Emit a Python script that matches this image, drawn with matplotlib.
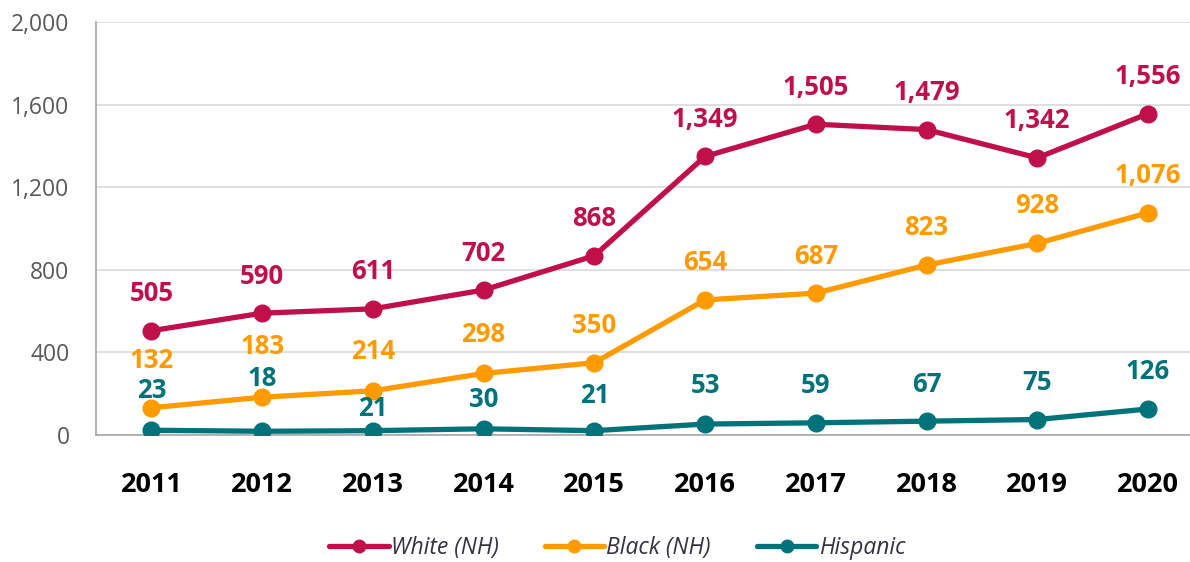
import numpy as np
import matplotlib.pyplot as plt
from matplotlib.ticker import FuncFormatter

YEARS = ["2011", "2012", "2013", "2014", "2015", "2016", "2017", "2018", "2019", "2020"]
WHITE = [505, 590, 611, 702, 868, 1349, 1505, 1479, 1342, 1556]
BLACK = [132, 183, 214, 298, 350, 654, 687, 823, 928, 1076]
HISPANIC = [23, 18, 21, 30, 21, 53, 59, 67, 75, 126]

SERIES = [
    ("White (NH)", WHITE, "#C0104A"),
    ("Black (NH)", BLACK, "#FF9A00"),
    ("Hispanic", HISPANIC, "#00737A"),
]
# label offsets above point (pixels), per series
LABEL_DY = {
    "White (NH)": [37] * 10,
    "Black (NH)": [47, 51, 39, 39, 37, 37, 37, 38, 38, 37],
    "Hispanic": [40, 53, 22, 29, 35, 39, 37, 37, 37, 37],
}

FONT = "Open Sans"
DPI = 100
fig = plt.figure(figsize=(11.9, 5.62), dpi=DPI)
ax = fig.add_axes([96 / 1190, 1 - 435 / 562, 1 - 96 / 1190, (435 - 22) / 562])

xs = np.arange(len(YEARS))
for name, vals, color in SERIES:
    ax.plot(xs, vals, color=color, lw=3.8, marker="o", ms=12, label=name,
            solid_capstyle="round", zorder=3)
    for x, v, dy in zip(xs, vals, LABEL_DY[name]):
        ax.annotate(f"{v:,}", (x, v), xytext=(0, dy * 72 / DPI), textcoords="offset points",
                    ha="center", va="center", fontsize=18.5, fontweight="bold",
                    color=color, family=FONT)

ax.set_ylim(0, 2000)
ax.set_yticks(range(0, 2001, 400))
ax.yaxis.set_major_formatter(FuncFormatter(lambda v, p: f"{int(v):,}"))
step = (1148 - 152) / 9
ax.set_xlim(-0.5, 9 + (1190 - 1148) / step)
ax.set_xticks(xs, YEARS)
ax.grid(axis="y", color="#D9D9D9", lw=1.2)
ax.set_axisbelow(True)
for s in ["top", "right"]:
    ax.spines[s].set_visible(False)
for s in ["left", "bottom"]:
    ax.spines[s].set_color("#A6A6A6")
    ax.spines[s].set_linewidth(1.2)
ax.tick_params(axis="both", length=0)
ax.tick_params(axis="y", pad=19, labelsize=16.5, labelcolor="#595959")
ax.tick_params(axis="x", pad=27, labelsize=19.5)
for t in ax.get_yticklabels():
    t.set_family(FONT)
for t in ax.get_xticklabels():
    t.set_family(FONT)
    t.set_fontweight("bold")

leg = fig.legend(loc="center", bbox_to_anchor=(617 / 1190, 1 - 548 / 562), ncol=3,
                 frameon=False, handlelength=2.6, handletextpad=0.1, columnspacing=2.0,
                 markerscale=0.75, prop={"family": FONT, "style": "italic", "size": 16.5})
for t in leg.get_texts():
    t.set_color("#333340")

fig.savefig("out.png", dpi=DPI)
